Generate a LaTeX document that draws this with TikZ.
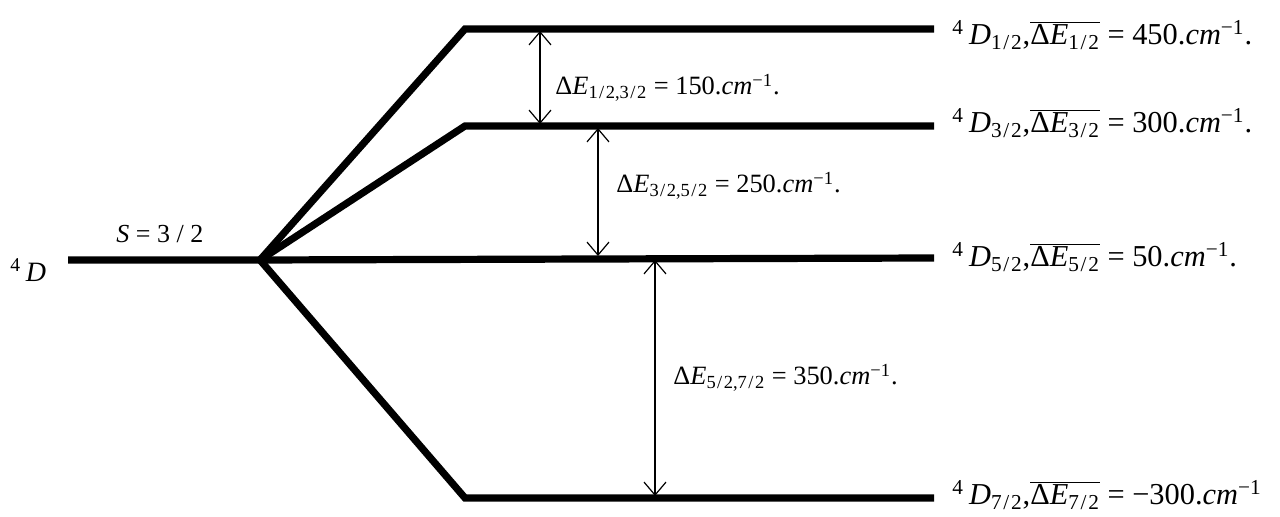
\documentclass[tikz,border=0pt]{standalone}
\usepackage{fontspec}
\setmainfont{Liberation Serif}
\usetikzlibrary{arrows.meta}
\newcommand\fsl{\kern0.08em/\kern0.08em}
\newcommand\lvlab[3]{\textsuperscript{4}\,\textit{D}\textsubscript{#1},$\overline{\hbox{Δ\textit{E}\textsubscript{#1}}}$ = #2.\textit{cm}\textsuperscript{−1}#3}
\newcommand\gaplab[2]{Δ\textit{E}\textsubscript{#1} = #2.\textit{cm}\textsuperscript{−1}.}
\begin{document}
\begin{tikzpicture}[x=0.5pt,y=-0.5pt,
  level/.style={line width=3.6pt,line cap=butt,line join=miter},
  gap/.style={line width=0.6pt,{Straight Barb[length=6.5pt,width=11pt]}-{Straight Barb[length=6.5pt,width=11pt]}},
  lvltext/.style={anchor=base west,inner sep=0pt,font=\fontsize{15.2}{18}\selectfont},
  gaptext/.style={anchor=base west,inner sep=0pt,font=\fontsize{13.2}{15}\selectfont}]
\useasboundingbox (0,0) rectangle (1280,517);
% coordinates
\coordinate (start) at (68,260);
\coordinate (split) at (260,260);
\coordinate (c1) at (465,29);
\coordinate (c2) at (465,126);
\coordinate (c4) at (465,498);
\coordinate (e1) at (934,29);
\coordinate (e2) at (934,126);
\coordinate (e3) at (934,258);
\coordinate (e4) at (934,498);
% levels
\draw[level] (start) -- (split) -- (e3);
\draw[level] (split) -- (c1) -- (e1);
\draw[level] (split) -- (c2) -- (e2);
\draw[level] (split) -- (c4) -- (e4);
% gap arrows
\coordinate (a1t) at (540,31);
\coordinate (a1b) at (540,124);
\coordinate (a2t) at (598,128);
\coordinate (a2b) at (598,256);
\coordinate (a3t) at (655,260);
\coordinate (a3b) at (655,496);
\draw[gap] (a1t) -- (a1b);
\draw[gap] (a2t) -- (a2b);
\draw[gap] (a3t) -- (a3b);
% texts
\node[anchor=base west,inner sep=0pt,font=\fontsize{14}{16}\selectfont] (D4) at (10,282) {\textsuperscript{4}\,\textit{D}};
\node[anchor=base west,inner sep=0pt,font=\fontsize{13}{15}\selectfont] (S) at (116,243) {\textit{S} = 3 / 2};
\node[lvltext] (l1) at (952,45) {\lvlab{1\fsl2}{450}{.}};
\node[lvltext] (l2) at (952,133) {\lvlab{3\fsl2}{300}{.}};
\node[lvltext] (l3) at (952,267) {\lvlab{5\fsl2}{50}{.}};
\node[lvltext] (l4) at (952,505) {\lvlab{7\fsl2}{−300}{}};
\node[gaptext] (g1) at (555,95) {\gaplab{1\fsl2,3\fsl2}{150}};
\node[gaptext] (g2) at (616,193) {\gaplab{3\fsl2,5\fsl2}{250}};
\node[gaptext] (g3) at (673,385) {\gaplab{5\fsl2,7\fsl2}{350}};
\end{tikzpicture}
\end{document}
